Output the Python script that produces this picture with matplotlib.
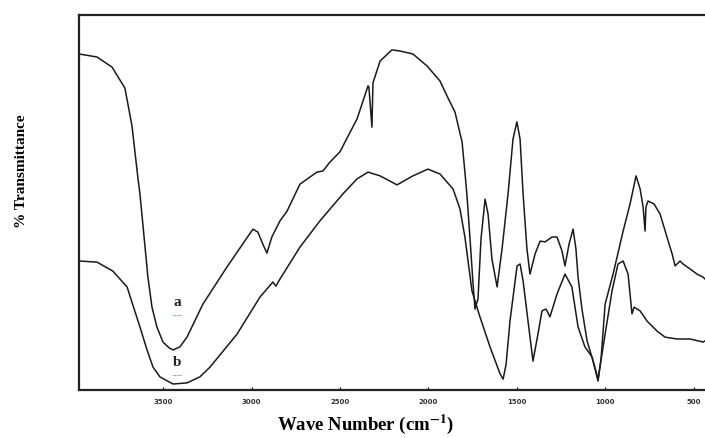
import numpy as np
import matplotlib
matplotlib.use("Agg")
import matplotlib.pyplot as plt

plt.rcParams["mathtext.fontset"] = "stix"

# curve a (upper at the left), wavenumber in cm-1 and % transmittance
wave_a = [3976, 3874, 3789, 3716, 3676, 3642, 3631, 3586, 3563, 3535, 3501, 3465,
          3444, 3405, 3365, 3275, 3139, 2992, 2964, 2936, 2913, 2885, 2839, 2799,
          2726, 2630, 2596, 2556, 2500, 2403, 2341, 2336, 2319, 2313, 2291, 2273,
          2206, 2161, 2087, 2007, 1934, 1894, 1849, 1809, 1793, 1781, 1764, 1747,
          1736, 1719, 1702, 1679, 1662, 1640, 1611, 1583, 1549, 1521, 1499, 1481,
          1464, 1442, 1425, 1396, 1368, 1340, 1300, 1272, 1244, 1227, 1204, 1181,
          1165, 1153, 1131, 1102, 1068, 1040, 1023, 1000, 955, 898, 859, 825,
          802, 785, 774, 769, 757, 723, 689, 650, 621, 604, 576, 559,
          520, 480, 446, 435]
trans_a = [89.6, 88.8, 86.1, 80.5, 70.4, 56.3, 52.3, 30.1, 22.1, 16.8, 12.8, 11.2,
           10.7, 11.5, 14.1, 22.9, 32.8, 42.9, 42.1, 38.9, 36.5, 40.8, 45.1, 47.7,
           54.9, 58.1, 58.4, 60.8, 63.5, 72.3, 81.1, 80.8, 70.1, 81.9, 85.1, 87.7,
           90.7, 90.4, 89.6, 86.4, 82.4, 78.4, 74.1, 66.1, 58.1, 51.7, 40.3, 28.3,
           21.6, 24.3, 40.3, 50.9, 46.9, 34.9, 27.5, 37.6, 52.3, 66.9, 71.5, 66.9,
           52.3, 37.6, 30.9, 36.3, 39.7, 39.5, 40.8, 40.8, 37.1, 33.1, 38.9, 42.9,
           37.6, 30.1, 21.6, 13.1, 7.7, 2.4, 8.3, 22.9, 30.9, 42.4, 49.6, 57.1,
           53.6, 48.8, 42.4, 48.8, 50.4, 49.6, 46.9, 40.8, 36.3, 33.1, 34.4, 33.6,
           32.3, 30.9, 30.1, 29.6]

# curve b (lower at the left)
wave_b = [3976, 3874, 3784, 3704, 3631, 3591, 3557, 3518, 3444, 3365, 3292, 3235,
          3082, 2952, 2879, 2862, 2839, 2726, 2613, 2483, 2403, 2341, 2273, 2177,
          2087, 2002, 1934, 1860, 1821, 1793, 1753, 1708, 1651, 1594, 1577, 1560,
          1538, 1498, 1481, 1464, 1436, 1408, 1380, 1357, 1334, 1312, 1272, 1227,
          1188, 1153, 1114, 1074, 1040, 1000, 961, 927, 898, 870, 848, 836,
          802, 763, 706, 661, 593, 520, 446, 435]
trans_b = [34.4, 34.1, 31.7, 27.5, 16.8, 10.7, 6.1, 3.5, 1.6, 1.9, 3.5, 6.1,
           14.9, 24.8, 28.8, 27.7, 29.6, 38.1, 45.1, 52.3, 56.3, 58.1, 57.1, 54.7,
           57.1, 58.9, 57.6, 53.6, 48.3, 40.8, 26.4, 19.5, 11.5, 4.3, 2.9, 6.9,
           18.4, 33.1, 33.6, 29.1, 18.4, 7.7, 14.9, 21.1, 21.6, 19.5, 25.6, 30.9,
           27.5, 16.8, 11.5, 8.8, 2.9, 14.9, 26.4, 33.6, 34.4, 30.9, 20.3, 22.1,
           21.1, 18.4, 15.7, 14.1, 13.6, 13.6, 12.8, 13.1]

tick_values = [3500, 3000, 2500, 2000, 1500, 1000, 500]

fig = plt.figure(figsize=(7.05, 4.39), dpi=100)
ax = fig.add_axes([0.112, 0.1093, 0.888, 0.8543])

ax.plot(wave_a, trans_a, color="#1a1a1a", lw=1.1)
ax.plot(wave_b, trans_b, color="#1a1a1a", lw=1.1)

ax.set_xlim(3976, 435)
ax.set_ylim(0, 100)

ax.set_xticks(tick_values)
ax.set_xticklabels([str(v) for v in tick_values], fontsize=5, fontweight="bold",
                   color="#333333")
ax.tick_params(axis="x", direction="in", length=2, width=0.8, pad=6)
ax.set_yticks([])

for side in ["left", "bottom", "top"]:
    ax.spines[side].set_linewidth(1.6)
    ax.spines[side].set_color("#222222")
ax.spines["right"].set_visible(False)

# curve labels
ax.text(3420, 23.5, "a", fontsize=11, fontweight="bold", family="Liberation Serif",
        ha="center", va="center", color="#222222")
ax.text(3420, 20.0, "~~", fontsize=5, color="#3a9a3a", ha="center", va="center")
ax.text(3420, 7.5, "b", fontsize=11, fontweight="bold", family="Liberation Serif",
        ha="center", va="center", color="#222222")
ax.text(3420, 4.0, "~~", fontsize=5, color="#3a9a3a", ha="center", va="center")

fig.text(0.518, 0.033, r"Wave Number (cm$^{\mathbf{-1}}$)", fontsize=13.5,
         fontweight="bold", family="Liberation Serif", ha="center", va="center")
fig.text(0.03, 0.61, "% Transmittance", fontsize=11, fontweight="bold",
         family="Liberation Serif", rotation=90, ha="center", va="center")

fig.savefig("out.png", dpi=100)
